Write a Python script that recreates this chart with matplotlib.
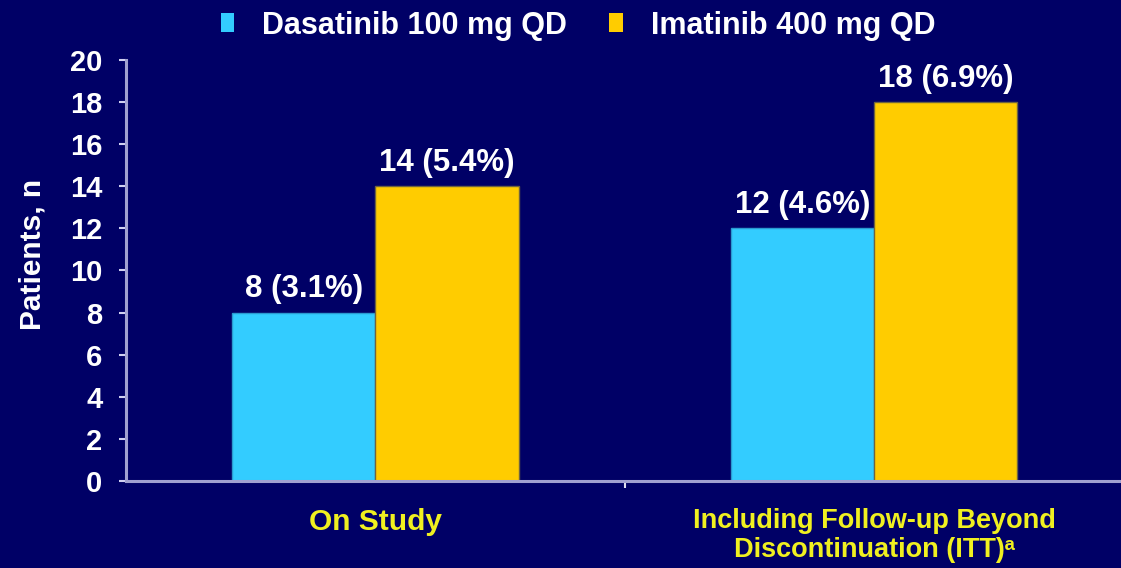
import matplotlib
matplotlib.use("Agg")
import matplotlib.pyplot as plt
from matplotlib.patches import Patch
from matplotlib.transforms import blended_transform_factory

# Data
categories = ["On Study", "Including Follow-up Beyond\nDiscontinuation (ITT)\u1d43"]
category_sizes = [21.5, 19.5]
series_names = ["Dasatinib 100 mg QD", "Imatinib 400 mg QD"]
dasatinib_n = [8, 12]
dasatinib_pct = [3.1, 4.6]
imatinib_n = [14, 18]
imatinib_pct = [5.4, 6.9]
y_ticks = list(range(0, 21, 2))

BG = "#000066"
BLUE = "#33CCFF"
GOLD = "#FFCC00"
AXIS = "#A0A0D0"
CAT_COLOR = "#F0F020"

plt.rcParams["font.family"] = ["Liberation Sans", "DejaVu Sans"]
plt.rcParams["font.weight"] = "bold"

fig = plt.figure(figsize=(11.21, 5.68), dpi=100, facecolor=BG)
ax = fig.add_axes([0.1124, 0.1532, 0.8900, 0.7412], facecolor=BG)

x = list(range(len(categories)))
w = 0.287
bars_d = ax.bar([i - w / 2 for i in x], dasatinib_n, width=w, color=BLUE,
                edgecolor="#2A9AD0", linewidth=1.0, zorder=2)
bars_i = ax.bar([i + w / 2 for i in x], imatinib_n, width=w, color=GOLD,
                edgecolor="#6E6440", linewidth=1.0, zorder=2)

for bars, ns, pcts in ((bars_d, dasatinib_n, dasatinib_pct),
                       (bars_i, imatinib_n, imatinib_pct)):
    for b, n, p in zip(bars, ns, pcts):
        ax.text(b.get_x() + b.get_width() / 2, n + 0.4, f"{n} ({p}%)",
                ha="center", va="bottom", color="white", fontsize=22.5,
                fontweight="bold")

ax.set_xlim(-0.5, 1.5)
ax.set_ylim(0, 20)
ax.set_yticks(y_ticks)
ax.set_yticklabels([str(t) for t in y_ticks])
ax.set_xticks([0.5])
ax.set_xticklabels([""])

for side in ("top", "right"):
    ax.spines[side].set_visible(False)
for side in ("left", "bottom"):
    ax.spines[side].set_color(AXIS)
    ax.spines[side].set_linewidth(2.2)
    ax.spines[side].set_zorder(3)

ax.tick_params(axis="y", direction="out", length=5, width=1.5, color="#D0D0F0",
               labelcolor="white", labelsize=21, pad=12)
ax.tick_params(axis="x", direction="out", length=5, width=1.5, color="#E0E0F0")

ax.set_ylabel("Patients, n", color="white", fontsize=21.5, fontweight="bold")
ax.yaxis.set_label_coords(-0.080, 0.537)

trans = blended_transform_factory(ax.transData, ax.transAxes)
for i, (cat, size) in enumerate(zip(categories, category_sizes)):
    ax.text(i, -0.063, cat, transform=trans, ha="center", va="top",
            color=CAT_COLOR, fontsize=size, fontweight="bold", linespacing=1.18)

handles = [Patch(facecolor=BLUE, edgecolor="none"),
           Patch(facecolor=GOLD, edgecolor="none")]
leg = fig.legend(handles, series_names, loc="center", bbox_to_anchor=(0.5155, 0.955),
                 ncol=2, frameon=False, fontsize=22, handlelength=0.45,
                 handleheight=0.6, handletextpad=0.9, columnspacing=1.4)
for t in leg.get_texts():
    t.set_color("white")
    t.set_fontweight("bold")

fig.savefig("out.png", dpi=100, facecolor=BG)
